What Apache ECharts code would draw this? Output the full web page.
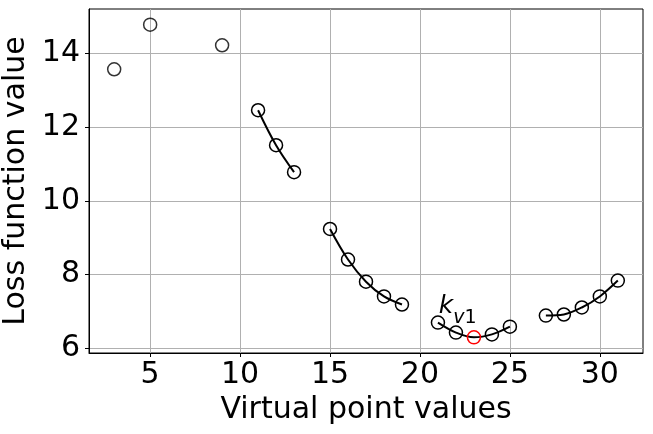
<!DOCTYPE html>
<html>
<head>
<meta charset="utf-8">
<script src="https://cdn.jsdelivr.net/npm/echarts@6/dist/echarts.min.js"></script>
<style>
  html, body { margin: 0; padding: 0; background: #fff; }
  #chart { width: 653px; height: 434px; }
</style>
</head>
<body>
<div id="chart"></div>
<script>
// isolated points
const singleX = [3, 5, 9];
const singleY = [13.57, 14.78, 14.22];
// connected runs
const runAX = [11, 12, 13];
const runAY = [12.46, 11.51, 10.78];
const runBX = [15, 16, 17, 18, 19];
const runBY = [9.24, 8.41, 7.81, 7.41, 7.19];
const runCX = [21, 22, 23, 24, 25];
const runCY = [6.70, 6.43, 6.30, 6.38, 6.59];
const runDX = [27, 28, 29, 30, 31];
const runDY = [6.89, 6.92, 7.11, 7.41, 7.84];
const minX = 23; // highlighted point (k_v1)

const xTicks = [5, 10, 15, 20, 25, 30];
const yTicks = [6, 8, 10, 12, 14];

const FONT = 'DejaVu Sans';
const pair = (xs, ys) => xs.map((x, i) => [x, ys[i]]);

const allY = [].concat(singleY, runAY, runBY, runCY, runDY);
const yLo = Math.min(...allY), yHi = Math.max(...allY);
const yPad = (yHi - yLo) * 0.05;
const xPad = (31 - 3) * 0.05;

const markerStyle = {
  color: 'rgba(0,0,0,0)',
  borderColor: '#000',
  borderWidth: 1.5
};

function runSeries(xs, ys) {
  return {
    type: 'line',
    smooth: 0.35,
    symbol: 'circle',
    symbolSize: 13,
    itemStyle: markerStyle,
    lineStyle: {color: '#000', width: 2},
    emphasis: {disabled: true},
    data: pair(xs, ys).map(p => {
      if (p[0] !== minX) return p;
      return {
        value: p,
        itemStyle: {color: 'rgba(0,0,0,0)', borderColor: '#ff0000', borderWidth: 1.5},
        label: {
          show: true,
          position: [-28, -28],
          formatter: '{k|k}{v|v}{n|1}',
          rich: {
            k: {fontFamily: FONT, fontSize: 25, fontStyle: 'italic', color: '#000',
              lineHeight: 25, padding: [0, 0, 8, 0], verticalAlign: 'bottom'},
            v: {fontFamily: FONT, fontSize: 19, fontStyle: 'italic', color: '#000',
              lineHeight: 19, verticalAlign: 'bottom'},
            n: {fontFamily: FONT, fontSize: 19, color: '#000',
              lineHeight: 19, verticalAlign: 'bottom'}
          }
        }
      };
    })
  };
}

const chart = echarts.init(document.getElementById('chart'), null, {renderer: 'canvas'});

chart.setOption({
  animation: false,
  backgroundColor: '#fff',
  grid: {
    left: 89, right: 10, top: 9, bottom: 81,
    outerBoundsMode: 'none',
    show: true, borderColor: '#000', borderWidth: 1, backgroundColor: 'transparent'
  },
  xAxis: {
    type: 'value',
    min: 3 - xPad,
    max: 31 + xPad,
    name: 'Virtual point values',
    nameLocation: 'middle',
    nameGap: 41,
    nameTextStyle: {fontFamily: FONT, fontSize: 30, color: '#000'},
    axisLine: {show: true, onZero: false, lineStyle: {color: '#000', width: 1}},
    axisTick: {show: true, customValues: xTicks, length: 4, lineStyle: {color: '#000'}},
    axisLabel: {customValues: xTicks, margin: 7, fontFamily: FONT, fontSize: 30, color: '#000'},
    splitLine: {show: true, lineStyle: {color: '#b0b0b0', width: 1}}
  },
  yAxis: {
    type: 'value',
    min: yLo - yPad,
    max: yHi + yPad,
    name: 'Loss function value',
    nameLocation: 'middle',
    nameGap: 39,
    nameTextStyle: {fontFamily: FONT, fontSize: 30, color: '#000'},
    axisLine: {show: true, onZero: false, lineStyle: {color: '#000', width: 1}},
    axisTick: {show: true, customValues: yTicks, length: 4, lineStyle: {color: '#000'}},
    axisLabel: {customValues: yTicks, margin: 9, fontFamily: FONT, fontSize: 30, color: '#000'},
    splitLine: {show: true, lineStyle: {color: '#b0b0b0', width: 1}}
  },
  series: [
    {
      type: 'scatter',
      symbol: 'circle',
      symbolSize: 13,
      itemStyle: markerStyle,
      emphasis: {disabled: true},
      data: pair(singleX, singleY)
    },
    runSeries(runAX, runAY),
    runSeries(runBX, runBY),
    runSeries(runCX, runCY),
    runSeries(runDX, runDY)
  ]
});
</script>
</body>
</html>
